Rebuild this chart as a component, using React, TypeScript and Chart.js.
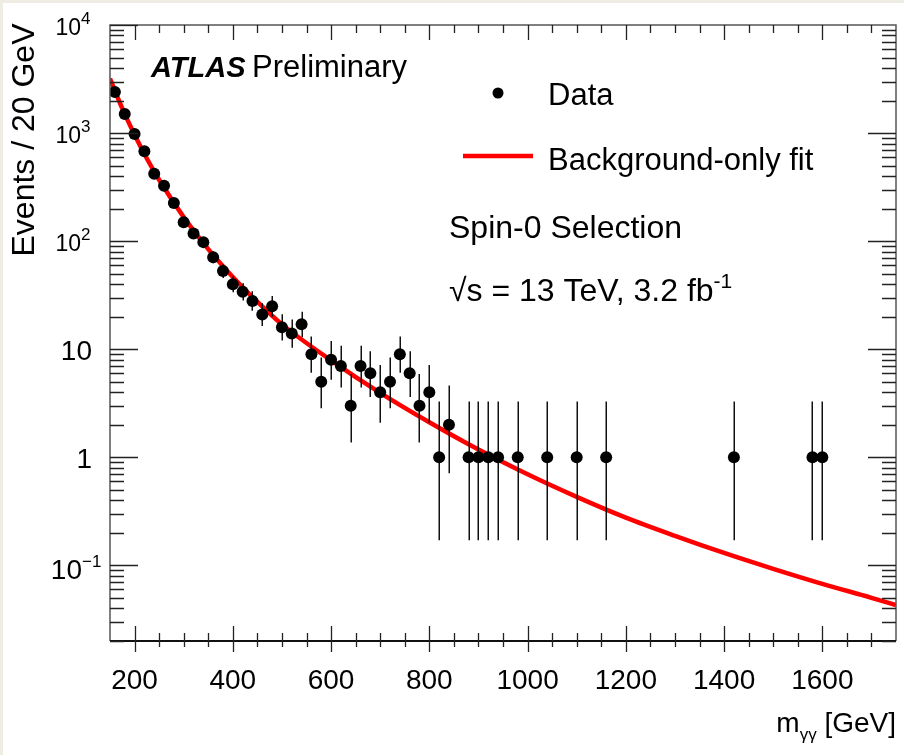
import React, { useEffect, useRef } from "react";
import { Chart, registerables } from "chart.js";

Chart.register(...registerables);

// ---- Data ----
const massGeV = [
  160, 180, 200, 220, 240, 260, 280, 300, 320, 340,
  360, 380, 400, 420, 440, 460, 480, 500, 520, 540,
  560, 580, 600, 620, 640, 660, 680, 700, 720, 740,
  760, 780, 800, 820, 840, 880, 900, 920, 940, 980,
  1040, 1100, 1160, 1420, 1580, 1600,
];
const events = [
  2400, 1500, 980, 680, 420, 325, 225, 150, 118, 98,
  71, 53, 40, 34, 28, 21, 25, 16, 14, 17,
  9, 5, 8, 7, 3, 7, 6, 4, 5, 9,
  6, 3, 4, 1, 2, 1, 1, 1, 1, 1,
  1, 1, 1, 1, 1, 1,
];

const fitMass = [
  150, 160, 175, 200, 225, 250, 300, 350, 400, 450, 500, 600, 700, 800,
  900, 1000, 1100, 1200, 1300, 1400, 1500, 1600, 1700, 1750,
];
const fitEvents = [
  3200, 2470, 1690, 964, 582, 370, 167, 84.5, 46.7, 27.5, 17, 7.9, 3.95, 2.11,
  1.18, 0.697, 0.431, 0.277, 0.188, 0.1306, 0.0931, 0.0676, 0.0502, 0.043,
];

const xTickValues = [200, 400, 600, 800, 1000, 1200, 1400, 1600];
const xTickLabels = ["200", "400", "600", "800", "1000", "1200", "1400", "1600"];
const yTickValues = [0.1, 1, 10, 100, 1000, 10000];
const yTickBases = ["10", "1", "10", "10", "10", "10"];
const yTickExps = ["\u22121", "", "", "2", "3", "4"];

const X_MIN = 150;
const X_MAX = 1750;
const Y_MIN = 0.02;
const Y_MAX = 10000;

const FONT = '"Liberation Sans", Arial, Helvetica, sans-serif';

// Garwood (Poisson) 68% interval via Wilson-Hilferty approximation
function poissonLow(n: number): number {
  if (n <= 0) return 0;
  const t = 1 - 1 / (9 * n) - 1 / (3 * Math.sqrt(n));
  return n * t * t * t;
}
function poissonHigh(n: number): number {
  const m = n + 1;
  const t = 1 - 1 / (9 * m) + 1 / (3 * Math.sqrt(m));
  return m * t * t * t;
}

const atlasPlugin = {
  id: "atlasDecor",
  beforeDraw(chart: any) {
    const ctx = chart.ctx;
    ctx.save();
    ctx.fillStyle = "#ffffff";
    ctx.fillRect(0, 0, chart.width, chart.height);
    ctx.fillStyle = "#efede3";
    ctx.fillRect(0, 0, chart.width, 3);
    ctx.fillRect(0, 0, 3, chart.height);
    ctx.restore();
  },
  afterDatasetDraw(chart: any, args: any) {
    if (args.index !== 0) return;
    // error bars drawn after the fit line, before the data markers
    const ctx = chart.ctx;
    const xs = chart.scales.x;
    const ys = chart.scales.y;
    const a = chart.chartArea;
    ctx.save();
    ctx.beginPath();
    ctx.rect(a.left, a.top, a.right - a.left, a.bottom - a.top);
    ctx.clip();
    ctx.strokeStyle = "#111111";
    ctx.lineWidth = 1.5;
    for (let i = 0; i < massGeV.length; i++) {
      const n = events[i];
      const px = Math.round(xs.getPixelForValue(massGeV[i])) + 0.25;
      const lo = poissonLow(n);
      const hi = poissonHigh(n);
      const yLo = lo > 0 ? ys.getPixelForValue(lo) : a.bottom;
      const yHi = ys.getPixelForValue(hi);
      ctx.beginPath();
      ctx.moveTo(px, yLo);
      ctx.lineTo(px, yHi);
      ctx.stroke();
    }
    ctx.restore();
  },
  afterDraw(chart: any) {
    const ctx = chart.ctx;
    const xs = chart.scales.x;
    const ys = chart.scales.y;
    const a = chart.chartArea;
    ctx.save();

    // ---- frame ----
    ctx.lineWidth = 1.5;
    ctx.strokeStyle = "#555555";
    ctx.beginPath();
    ctx.moveTo(a.left, a.bottom);
    ctx.lineTo(a.left, a.top);
    ctx.lineTo(a.right, a.top);
    ctx.lineTo(a.right, a.bottom);
    ctx.stroke();
    ctx.strokeStyle = "#111111";
    ctx.lineWidth = 2;
    ctx.beginPath();
    ctx.moveTo(a.left, a.bottom);
    ctx.lineTo(a.right, a.bottom);
    ctx.stroke();

    // ---- x ticks (every 50 GeV, major every 200) ----
    ctx.strokeStyle = "#222222";
    ctx.lineWidth = 1.3;
    for (let v = 200; v < X_MAX; v += 50) {
      const px = Math.round(xs.getPixelForValue(v)) + 0.5;
      const major = v % 200 === 0;
      ctx.beginPath();
      ctx.moveTo(px, a.bottom - (major ? 15 : 8));
      ctx.lineTo(px, a.bottom + (major ? 11 : 6));
      ctx.moveTo(px, a.top);
      ctx.lineTo(px, a.top + (major ? 15 : 8));
      ctx.stroke();
    }

    // ---- y ticks (log) ----
    for (let e = -2; e <= 3; e++) {
      for (let k = 1; k <= 9; k++) {
        const v = k * Math.pow(10, e);
        if (v < Y_MIN * 0.999 || v > Y_MAX * 1.001) continue;
        const py = Math.round(ys.getPixelForValue(v)) + 0.5;
        const major = k === 1;
        const len = major ? 28 : 14;
        ctx.beginPath();
        ctx.moveTo(a.left, py);
        ctx.lineTo(a.left + len, py);
        ctx.moveTo(a.right, py);
        ctx.lineTo(a.right - len, py);
        ctx.stroke();
      }
    }
    {
      const py = Math.round(ys.getPixelForValue(10000)) + 0.5;
      ctx.beginPath();
      ctx.moveTo(a.left, py);
      ctx.lineTo(a.left + 28, py);
      ctx.stroke();
    }

    ctx.fillStyle = "#000000";

    // ---- x tick labels ----
    ctx.font = `28px ${FONT}`;
    ctx.textAlign = "center";
    ctx.textBaseline = "alphabetic";
    for (let i = 0; i < xTickValues.length; i++) {
      const px = xs.getPixelForValue(xTickValues[i]);
      ctx.fillText(xTickLabels[i], px, 689);
    }

    // ---- y tick labels ----
    ctx.textAlign = "left";
    for (let i = 0; i < yTickValues.length; i++) {
      const py = ys.getPixelForValue(yTickValues[i]);
      const base = yTickBases[i];
      const exp = yTickExps[i];
      if (exp === "") {
        ctx.font = `28px ${FONT}`;
        const w = ctx.measureText(base).width;
        ctx.fillText(base, 92 - w, py + 11);
      } else if (yTickValues[i] < 1) {
        ctx.font = `28px ${FONT}`;
        const w = ctx.measureText(base).width;
        ctx.fillText(base, 82 - w, py + 14);
        ctx.font = `17px ${FONT}`;
        ctx.fillText(exp, 82, py + 2);
      } else {
        ctx.font = `23px ${FONT}`;
        const w = ctx.measureText(base).width;
        ctx.fillText(base, 81 - w, py + 10);
        ctx.font = `17px ${FONT}`;
        ctx.fillText(exp, 81, py - 1);
      }
    }

    // ---- y title ----
    ctx.save();
    ctx.translate(34, 140);
    ctx.rotate(-Math.PI / 2);
    ctx.font = `32px ${FONT}`;
    ctx.textAlign = "center";
    ctx.fillText("Events / 20 GeV", 0, 0);
    ctx.restore();

    // ---- x title: m_γγ [GeV] ----
    {
      ctx.textAlign = "left";
      ctx.font = `28px ${FONT}`;
      const wRest = ctx.measureText(" [GeV]").width;
      const wM = ctx.measureText("m").width;
      ctx.font = `17px ${FONT}`;
      const wSub = ctx.measureText("\u03b3\u03b3").width;
      let x = a.right - wRest - wSub - wM;
      ctx.font = `28px ${FONT}`;
      ctx.fillText("m", x, 732);
      x += wM;
      ctx.font = `17px ${FONT}`;
      ctx.fillText("\u03b3\u03b3", x, 740);
      x += wSub;
      ctx.font = `28px ${FONT}`;
      ctx.fillText(" [GeV]", x, 732);
    }

    // ---- ATLAS label ----
    ctx.font = `italic bold 29px ${FONT}`;
    ctx.fillText("ATLAS", 151, 77);
    ctx.font = `31px ${FONT}`;
    ctx.fillText("Preliminary", 252, 77);

    // ---- legend ----
    ctx.beginPath();
    ctx.arc(498, 93, 5.5, 0, Math.PI * 2);
    ctx.fill();
    ctx.font = `31px ${FONT}`;
    ctx.fillText("Data", 548, 105);
    ctx.strokeStyle = "#ff0000";
    ctx.lineWidth = 4.5;
    ctx.beginPath();
    ctx.moveTo(463, 156);
    ctx.lineTo(533, 156);
    ctx.stroke();
    ctx.fillText("Background-only fit", 548, 170);

    // ---- annotations ----
    ctx.font = `32px ${FONT}`;
    ctx.fillText("Spin-0 Selection", 449, 238);
    const sTxt = "\u221as = 13 TeV, 3.2 fb";
    ctx.fillText(sTxt, 449, 301);
    const ws = ctx.measureText(sTxt).width;
    ctx.font = `21px ${FONT}`;
    ctx.fillText("-1", 449 + ws, 288);

    ctx.restore();
  },
};

export default function App() {
  const canvasRef = useRef<HTMLCanvasElement | null>(null);

  useEffect(() => {
    const canvas = canvasRef.current;
    if (!canvas) return;
    const chart = new Chart(canvas, {
      type: "scatter",
      data: {
        datasets: [
          {
            label: "Background-only fit",
            data: fitMass.map((m, i) => ({ x: m, y: fitEvents[i] })),
            showLine: true,
            borderColor: "#ff0000",
            borderWidth: 4.5,
            pointRadius: 0,
            cubicInterpolationMode: "monotone",
            order: 1,
          },
          {
            label: "Data",
            data: massGeV.map((m, i) => ({ x: m, y: events[i] })),
            showLine: false,
            backgroundColor: "#000000",
            borderColor: "#000000",
            borderWidth: 0,
            pointRadius: 6,
            order: 0,
          },
        ],
      },
      options: {
        responsive: false,
        animation: false,
        events: [],
        layout: { padding: { left: 110, top: 25, right: 8, bottom: 114 } },
        plugins: {
          legend: { display: false },
          tooltip: { enabled: false },
          title: { display: false },
        },
        scales: {
          x: { type: "linear", min: X_MIN, max: X_MAX, display: false },
          y: { type: "logarithmic", min: Y_MIN, max: Y_MAX, display: false },
        },
      },
      plugins: [atlasPlugin],
    });
    return () => chart.destroy();
  }, []);

  return (
    <div style={{ position: "absolute", left: 0, top: 0, width: 904, height: 755, background: "#ffffff" }}>
      <canvas ref={canvasRef} width={904} height={755} style={{ display: "block" }} />
    </div>
  );
}
